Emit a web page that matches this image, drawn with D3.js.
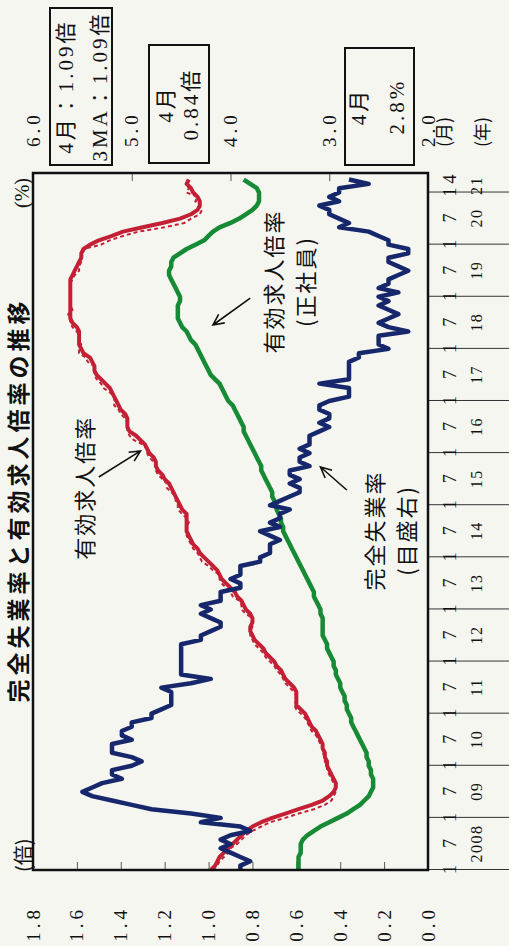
<!DOCTYPE html>
<html>
<head>
<meta charset="utf-8">
<script src="https://cdn.jsdelivr.net/npm/d3@7/dist/d3.min.js"></script>
<style>
    body { margin: 0; background: #f6f6f1; }
    svg { display: block; }
</style>
</head>
<body>
<div id="chart"></div>
<script>
// monthly data, Jan 2008 .. Apr 2021 (index 0 = 2008/1)
const years = ["2008", "09", "10", "11", "12", "13", "14", "15", "16", "17", "18", "19", "20", "21"];

// 有効求人倍率 (monthly, dashed)
const jobRatio = [
    0.98, 0.96, 0.95, 0.93, 0.91, 0.90, 0.87, 0.85, 0.83, 0.80, 0.76, 0.72,
    0.65, 0.59, 0.52, 0.47, 0.44, 0.43, 0.42, 0.42, 0.43, 0.44, 0.45, 0.46,
    0.46, 0.47, 0.47, 0.48, 0.48, 0.49, 0.50, 0.51, 0.53, 0.54, 0.55, 0.56,
    0.58, 0.60, 0.61, 0.60, 0.60, 0.61, 0.63, 0.65, 0.66, 0.67, 0.69, 0.70,
    0.72, 0.74, 0.75, 0.77, 0.79, 0.80, 0.81, 0.81, 0.80, 0.80, 0.80, 0.83,
    0.85, 0.85, 0.86, 0.89, 0.90, 0.92, 0.94, 0.95, 0.95, 0.98, 1.00, 1.03,
    1.04, 1.05, 1.07, 1.08, 1.09, 1.10, 1.10, 1.10, 1.09, 1.10, 1.12, 1.14,
    1.14, 1.15, 1.15, 1.17, 1.19, 1.19, 1.21, 1.23, 1.24, 1.24, 1.25, 1.27,
    1.28, 1.28, 1.30, 1.34, 1.36, 1.37, 1.37, 1.37, 1.38, 1.40, 1.41, 1.43,
    1.43, 1.43, 1.45, 1.48, 1.49, 1.51, 1.52, 1.52, 1.52, 1.55, 1.56, 1.59,
    1.59, 1.58, 1.59, 1.59, 1.60, 1.62, 1.63, 1.63, 1.64, 1.62, 1.63, 1.63,
    1.63, 1.63, 1.63, 1.63, 1.62, 1.61, 1.59, 1.59, 1.58, 1.58, 1.57, 1.57,
    1.49, 1.45, 1.39, 1.32, 1.20, 1.11, 1.08, 1.04, 1.03, 1.04, 1.06, 1.05,
    1.10, 1.09, 1.10, 1.09
];

// 有効求人倍率 3MA (solid)
const jobRatio3MA = [
    0.99, 0.97, 0.96, 0.95, 0.93, 0.91, 0.89, 0.87, 0.85, 0.83, 0.80, 0.76,
    0.71, 0.65, 0.59, 0.53, 0.48, 0.45, 0.43, 0.42, 0.42, 0.43, 0.44, 0.45,
    0.46, 0.46, 0.47, 0.47, 0.48, 0.48, 0.49, 0.50, 0.51, 0.53, 0.54, 0.55,
    0.56, 0.58, 0.60, 0.60, 0.60, 0.60, 0.61, 0.63, 0.65, 0.66, 0.67, 0.69,
    0.70, 0.72, 0.74, 0.75, 0.77, 0.79, 0.80, 0.81, 0.81, 0.80, 0.80, 0.81,
    0.83, 0.84, 0.85, 0.87, 0.88, 0.90, 0.92, 0.94, 0.95, 0.96, 0.98, 1.00,
    1.02, 1.04, 1.05, 1.07, 1.08, 1.09, 1.10, 1.10, 1.10, 1.10, 1.10, 1.12,
    1.13, 1.14, 1.15, 1.16, 1.17, 1.18, 1.20, 1.21, 1.23, 1.24, 1.24, 1.25,
    1.27, 1.28, 1.29, 1.31, 1.33, 1.36, 1.37, 1.37, 1.37, 1.38, 1.40, 1.41,
    1.42, 1.43, 1.44, 1.45, 1.47, 1.49, 1.51, 1.52, 1.52, 1.53, 1.54, 1.57,
    1.58, 1.59, 1.59, 1.59, 1.59, 1.60, 1.62, 1.63, 1.63, 1.63, 1.63, 1.63,
    1.63, 1.63, 1.63, 1.63, 1.63, 1.62, 1.61, 1.60, 1.59, 1.58, 1.58, 1.57,
    1.54, 1.50, 1.44, 1.39, 1.30, 1.21, 1.13, 1.08, 1.05, 1.04, 1.04, 1.05,
    1.07, 1.08, 1.10, 1.09
];

// 有効求人倍率 (正社員)
const jobRatioRegular = [
    0.59, 0.59, 0.59, 0.59, 0.58, 0.58, 0.58, 0.57, 0.55, 0.52, 0.49, 0.45,
    0.41, 0.37, 0.34, 0.31, 0.29, 0.27, 0.26, 0.25, 0.25, 0.25, 0.26, 0.26,
    0.27, 0.27, 0.28, 0.28, 0.29, 0.30, 0.31, 0.32, 0.33, 0.34, 0.35, 0.35,
    0.36, 0.37, 0.37, 0.38, 0.38, 0.39, 0.40, 0.40, 0.41, 0.42, 0.42, 0.43,
    0.43, 0.44, 0.45, 0.46, 0.46, 0.47, 0.48, 0.48, 0.48, 0.48, 0.48, 0.49,
    0.49, 0.50, 0.51, 0.52, 0.52, 0.53, 0.54, 0.55, 0.56, 0.57, 0.58, 0.59,
    0.60, 0.61, 0.62, 0.63, 0.64, 0.65, 0.66, 0.66, 0.67, 0.67, 0.68, 0.69,
    0.69, 0.70, 0.71, 0.71, 0.72, 0.73, 0.74, 0.75, 0.76, 0.76, 0.77, 0.78,
    0.79, 0.80, 0.81, 0.82, 0.83, 0.84, 0.84, 0.85, 0.86, 0.87, 0.88, 0.89,
    0.91, 0.92, 0.93, 0.94, 0.95, 0.97, 0.99, 1.00, 1.01, 1.02, 1.03, 1.04,
    1.05, 1.06, 1.08, 1.09, 1.10, 1.12, 1.13, 1.14, 1.14, 1.14, 1.14, 1.13,
    1.13, 1.14, 1.15, 1.16, 1.17, 1.18, 1.18, 1.17, 1.17, 1.16, 1.13, 1.10,
    1.06, 1.02, 1.00, 0.98, 0.95, 0.90, 0.86, 0.83, 0.80, 0.78, 0.77, 0.77,
    0.77, 0.78, 0.81, 0.84
];

// 完全失業率 (%, right axis)
const unemployment = [
    3.9, 3.9, 3.8, 3.9, 4.0, 4.1, 4.0, 4.1, 4.0, 3.8, 3.9, 4.3,
    4.1, 4.4, 4.8, 5.0, 5.2, 5.4, 5.5, 5.4, 5.3, 5.1, 5.2, 5.2,
    5.0, 4.9, 5.0, 5.2, 5.2, 5.2, 5.0, 5.1, 5.1, 5.0, 5.0, 4.8,
    4.8, 4.7, 4.6, 4.6, 4.6, 4.6, 4.7, 4.4, 4.2, 4.5, 4.5, 4.5,
    4.5, 4.5, 4.5, 4.5, 4.5, 4.3, 4.3, 4.2, 4.1, 4.1, 4.2, 4.3,
    4.2, 4.3, 4.1, 4.1, 4.1, 3.9, 3.9, 4.0, 3.9, 3.9, 3.9, 3.7,
    3.7, 3.6, 3.6, 3.6, 3.5, 3.6, 3.7, 3.5, 3.6, 3.5, 3.5, 3.4,
    3.6, 3.5, 3.4, 3.3, 3.3, 3.4, 3.3, 3.4, 3.4, 3.2, 3.3, 3.3,
    3.2, 3.3, 3.2, 3.2, 3.2, 3.1, 3.0, 3.1, 3.0, 3.0, 3.1, 3.1,
    3.0, 2.8, 2.8, 2.8, 3.1, 2.8, 2.8, 2.8, 2.8, 2.8, 2.7, 2.7,
    2.4, 2.5, 2.5, 2.5, 2.2, 2.4, 2.5, 2.4, 2.3, 2.4, 2.5, 2.4,
    2.5, 2.3, 2.5, 2.4, 2.4, 2.3, 2.2, 2.3, 2.4, 2.4, 2.2, 2.2,
    2.4, 2.4, 2.5, 2.6, 2.9, 2.8, 2.9, 3.0, 3.0, 3.1, 2.9, 3.0,
    2.9, 2.9, 2.6, 2.8
];

const leftTicks = [0.0, 0.2, 0.4, 0.6, 0.8, 1.0, 1.2, 1.4, 1.6, 1.8];
const rightTicks = [2.0, 3.0, 4.0, 5.0, 6.0];

// latest values shown in the boxes
const boxJob = ["4月：1.09倍", "3MA：1.09倍"];
const boxRegular = ["4月", "0.84倍"];
const boxUnemp = ["4月", "2.8%"];

// the chart is laid out landscape and then turned a quarter turn counter-clockwise
const W = 946, H = 509;
const margin = {top: 33, right: 173, bottom: 81, left: 76};
const width = W - margin.left - margin.right, height = H - margin.top - margin.bottom;

const serif = "'Liberation Serif', 'DejaVu Serif', 'Noto Sans CJK JP', serif";
const gothic = "'Noto Sans CJK JP', sans-serif";
const ink = "#111";

const svg = d3.select("#chart")
    .append("svg")
    .attr("width", H)
    .attr("height", W);

svg.append("rect").attr("width", H).attr("height", W).attr("fill", "#f6f6f1");

const root = svg.append("g")
    .attr("transform", `translate(0,${W}) rotate(-90)`);

const g = root.append("g")
    .attr("transform", `translate(${margin.left},${margin.top})`);

const lastMonth = jobRatio.length - 1;
const x = d3.scaleLinear().domain([0, lastMonth + 1.5]).range([0, width]);
const yL = d3.scaleLinear().domain([0, 1.8]).range([height, 0]);
const yR = d3.scaleLinear().domain([2, 6]).range([height, 0]);

// month rows below the plot
const januaries = d3.range(0, lastMonth + 1, 12);
const monthTicks = januaries.concat(januaries.filter(m => m + 6 <= lastMonth).map(m => m + 6), [lastMonth]);

g.append("g")
    .attr("transform", `translate(0,${height})`)
    .call(d3.axisBottom(x).tickValues(januaries).tickSize(margin.bottom).tickFormat(""))
    .call(a => a.select(".domain").remove())
    .call(a => a.selectAll("line").attr("stroke", "#333").attr("stroke-width", 1));

g.append("g")
    .attr("transform", `translate(0,${height})`)
    .call(d3.axisBottom(x).tickValues(monthTicks).tickSize(0).tickPadding(15)
        .tickFormat(m => String(m % 12 + 1)))
    .call(a => a.select(".domain").remove())
    .call(a => a.selectAll("text").attr("font-family", serif).attr("font-size", 18).attr("fill", ink));

const yearTicks = years.map((y, i) => i < years.length - 1 ? i * 12 + 6 : (i * 12 + lastMonth) / 2);
g.append("g")
    .attr("transform", `translate(0,${height})`)
    .call(d3.axisBottom(x).tickValues(yearTicks).tickSize(0).tickPadding(43)
        .tickFormat((d, i) => years[i]))
    .call(a => a.select(".domain").remove())
    .call(a => a.selectAll("text").attr("font-family", serif).attr("font-size", 16)
        .attr("letter-spacing", 1.5).attr("fill", ink));

// left axis (倍)
g.append("g")
    .call(d3.axisLeft(yL).tickValues(leftTicks).tickSizeInner(-8).tickSizeOuter(0).tickPadding(36)
        .tickFormat(d3.format(".1f")))
    .call(a => a.select(".domain").remove())
    .call(a => a.selectAll("line").attr("stroke", "#555"))
    .call(a => a.selectAll("text").attr("font-family", serif).attr("font-size", 19)
        .attr("letter-spacing", 4).attr("fill", ink));

// right axis (%)
g.append("g")
    .attr("transform", `translate(${width},0)`)
    .call(d3.axisRight(yR).tickValues(rightTicks).tickSizeInner(-8).tickSizeOuter(0).tickPadding(26)
        .tickFormat(d3.format(".1f")))
    .call(a => a.select(".domain").remove())
    .call(a => a.selectAll("line").attr("stroke", "#555"))
    .call(a => a.selectAll("text").attr("font-family", serif).attr("font-size", 19)
        .attr("letter-spacing", 4).attr("fill", ink));

// series
const lineL = d3.line().x((d, i) => x(i)).y(d => yL(d));
const lineR = d3.line().x((d, i) => x(i)).y(d => yR(d));

g.append("path").datum(jobRatioRegular)
    .attr("d", lineL).attr("fill", "none")
    .attr("stroke", "#168a34").attr("stroke-width", 4.5).attr("stroke-linejoin", "round");

g.append("path").datum(jobRatio)
    .attr("d", lineL).attr("fill", "none")
    .attr("stroke", "#c42035").attr("stroke-width", 2).attr("stroke-dasharray", "4,3");

g.append("path").datum(jobRatio3MA)
    .attr("d", lineL).attr("fill", "none")
    .attr("stroke", "#c42035").attr("stroke-width", 4).attr("stroke-linejoin", "round");

g.append("path").datum(unemployment)
    .attr("d", lineR).attr("fill", "none")
    .attr("stroke", "#17276b").attr("stroke-width", 4.5).attr("stroke-linejoin", "round");

// plot frame
g.append("rect")
    .attr("width", width).attr("height", height)
    .attr("fill", "none").attr("stroke", ink).attr("stroke-width", 2.5);

// annotations: label lines and arrows, placed in data space
const notes = [
    {lines: ["有効求人倍率"], m: 88, v: 1.57, from: [90.5, 1.50], to: [96.5, 1.31]},
    {lines: ["有効求人倍率", "(正社員)"], m: 135.5, v: 0.71, from: [131.7, 0.81], to: [125.5, 0.98]},
    {lines: ["完全失業率", "(目盛右)"], m: 78.2, v: 0.25, from: [87.5, 0.37], to: [92.8, 0.49]}
];

notes.forEach(n => {
    n.lines.forEach((t, i) => {
        g.append("text")
            .attr("x", x(n.m)).attr("y", yL(n.v) + i * 32)
            .attr("text-anchor", "middle").attr("dominant-baseline", "central")
            .attr("font-family", gothic).attr("font-size", 22).attr("letter-spacing", 2)
            .attr("fill", ink).text(t);
    });
    const x0 = x(n.from[0]), y0 = yL(n.from[1]), x1 = x(n.to[0]), y1 = yL(n.to[1]);
    const ang = Math.atan2(y1 - y0, x1 - x0), len = 12, spread = 0.45;
    const p = d3.path();
    p.moveTo(x0, y0); p.lineTo(x1, y1);
    p.moveTo(x1 - len * Math.cos(ang - spread), y1 - len * Math.sin(ang - spread));
    p.lineTo(x1, y1);
    p.lineTo(x1 - len * Math.cos(ang + spread), y1 - len * Math.sin(ang + spread));
    g.append("path").attr("d", p.toString()).attr("fill", "none")
        .attr("stroke", ink).attr("stroke-width", 1.6);
});

// unit labels
root.append("text").attr("x", 74).attr("y", 22).attr("dominant-baseline", "central")
    .attr("font-family", gothic).attr("font-size", 20).attr("fill", ink).text("(倍)");
root.append("text").attr("x", 768).attr("y", 22).attr("dominant-baseline", "central")
    .attr("text-anchor", "end").attr("font-family", serif).attr("font-size", 20).attr("fill", ink).text("(%)");
root.append("text").attr("x", 799).attr("y", 443).attr("dominant-baseline", "central")
    .attr("font-family", gothic).attr("font-size", 18).attr("fill", ink).text("(月)");
root.append("text").attr("x", 799).attr("y", 481).attr("dominant-baseline", "central")
    .attr("font-family", gothic).attr("font-size", 18).attr("fill", ink).text("(年)");

// title along the outer edge
root.append("text").attr("x", 446).attr("y", 27)
    .attr("text-anchor", "middle").attr("font-family", gothic).attr("font-weight", "bold")
    .attr("font-size", 23).attr("letter-spacing", 4).attr("fill", ink).text("完全失業率と有効求人倍率の推移");

// value boxes at the right end
function valueBox(bx, by, bw, bh, texts, rows) {
    root.append("rect").attr("x", bx).attr("y", by).attr("width", bw).attr("height", bh)
        .attr("fill", "none").attr("stroke", ink).attr("stroke-width", 2);
    texts.forEach((t, i) => {
        root.append("text").attr("x", bx + bw / 2).attr("y", rows[i])
            .attr("text-anchor", "middle").attr("dominant-baseline", "central")
            .attr("font-family", serif).attr("font-size", 21).attr("letter-spacing", 3)
            .attr("fill", ink).text(t);
    });
}
valueBox(781, 50, 157, 62, boxJob, [66, 100]);
valueBox(783, 149, 118, 60, boxRegular, [166, 191]);
valueBox(781, 345, 117, 69, boxUnemp, [359, 397]);
</script>
</body>
</html>
